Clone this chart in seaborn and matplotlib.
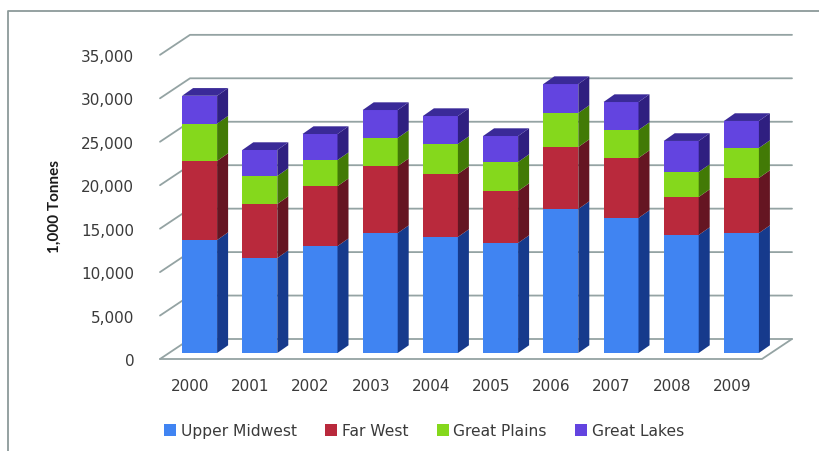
import numpy as np
import pandas as pd
import matplotlib
matplotlib.use("Agg")
import matplotlib.pyplot as plt
from matplotlib.lines import Line2D
from matplotlib.patches import Patch
import seaborn as sns

years = [2000, 2001, 2002, 2003, 2004, 2005, 2006, 2007, 2008, 2009]
upper_midwest = [13000, 10930, 12300, 13800, 13350, 12660, 16570, 15540, 13580, 13800]
far_west = [9100, 6220, 6900, 7700, 7250, 5980, 7130, 6900, 4370, 6340]
great_plains = [4300, 3220, 3000, 3240, 3450, 3340, 3920, 3220, 2880, 3450]
great_lakes = [3200, 2990, 3000, 3220, 3220, 2990, 3330, 3220, 3570, 3110]
series_names = ["Upper Midwest", "Far West", "Great Plains", "Great Lakes"]
front_colors = ["#4084f2", "#b9293c", "#85d81c", "#6344e0"]
side_colors = ["#163a8c", "#651522", "#427a06", "#2f1f80"]
top_color = "#3a2a98"
y_ticks = [0, 5000, 10000, 15000, 20000, 25000, 30000, 35000]

W, H = 819, 452
PX_X = 60.2          # pixels per year
PX_Y = 8.69 / 1000   # pixels per tonne unit
wall_dx, wall_dy = 30 / PX_X, 20 / PX_Y
bar_dx, bar_dy = 9.5 / PX_X, 6 / PX_Y
side_dx, side_dy = 11 / PX_X, 7.7 / PX_Y
bar_w = 35 / PX_X

sns.set_theme(style="white")
plt.rcParams["font.family"] = ["DejaVu Sans"]
fig = plt.figure(figsize=(W / 100, H / 100), dpi=100)
ax = fig.add_axes([160 / W, (H - 360) / H, 632 / W, 325 / H])
ax.patch.set_alpha(0)

grid_c = "#94a3a3"
x0 = 1999.5
x1 = 2009.5
gkw = dict(color=grid_c, lw=1.3, zorder=1, clip_on=False, solid_capstyle="round")
for v in y_ticks:
    ax.plot([x0, x0 + wall_dx, x1 + wall_dx], [v, v + wall_dy, v + wall_dy], **gkw)
ax.plot([x0, x1, x1 + wall_dx], [0, 0, wall_dy], **gkw)

frame = pd.DataFrame({"year": years, **dict(zip(series_names, [upper_midwest, far_west, great_plains, great_lakes]))})
bottom = np.zeros(len(years)) + bar_dy
xpos = np.array(years) + bar_dx
for name, fc, sc in zip(series_names, front_colors, side_colors):
    vals = frame[name].to_numpy(dtype=float)
    sns.barplot(x=xpos, y=vals, bottom=bottom, native_scale=True, color=fc, width=bar_w,
                saturation=1, errorbar=None, ax=ax, zorder=3, linewidth=0)
    for xc, b, v in zip(xpos, bottom, vals):
        r = xc + bar_w / 2
        ax.fill([r, r + side_dx, r + side_dx, r],
                [b, b + side_dy, b + v + side_dy, b + v], color=sc, lw=0, zorder=3)
    bottom = bottom + vals
for xc, t in zip(xpos, bottom):
    l, r = xc - bar_w / 2, xc + bar_w / 2
    ax.fill([l, r, r + side_dx, l + side_dx], [t, t, t + side_dy, t + side_dy],
            color=top_color, lw=0, zorder=3)

ax.set_xlim(x0, x0 + 632 / PX_X)
ax.set_ylim(0, 325 / PX_Y)
ax.set_xticks(years)
ax.set_xticklabels([str(y) for y in years])
ax.set_yticks(y_ticks)
ax.set_yticklabels([f"{v:,}" for v in y_ticks])
ax.tick_params(axis="both", length=0, labelsize=11, labelcolor="#3a3a3a")
ax.tick_params(axis="y", pad=18.5)
ax.tick_params(axis="x", pad=13.5)
ax.set_xlabel("")
ax.set_ylabel("")
for s in ax.spines.values():
    s.set_visible(False)

fig.text(55 / W, 1 - 207 / H, "1,000 Tonnes", rotation=90, ha="center", va="center",
         fontsize=11, fontweight="bold", family="Lato", color="#1a1a1a")

handles = [Patch(facecolor=c, edgecolor="none", label=n) for n, c in zip(series_names, front_colors)]
fig.legend(handles=handles, ncol=4, loc="center left", bbox_to_anchor=(164 / W, 1 - 432 / H),
           frameon=False, fontsize=11.2, labelcolor="#3a3a3a", handlelength=0.77, handleheight=0.77,
           handletextpad=0.3, columnspacing=1.83, borderpad=0, borderaxespad=0)

fc = "#8c9a9a"
fig.add_artist(Line2D([8 / W, 8 / W, 1], [0, 1 - 12 / H, 1 - 12 / H], color=fc, lw=1.3,
                      transform=fig.transFigure))

fig.savefig("out.png", dpi=100, facecolor="white")
